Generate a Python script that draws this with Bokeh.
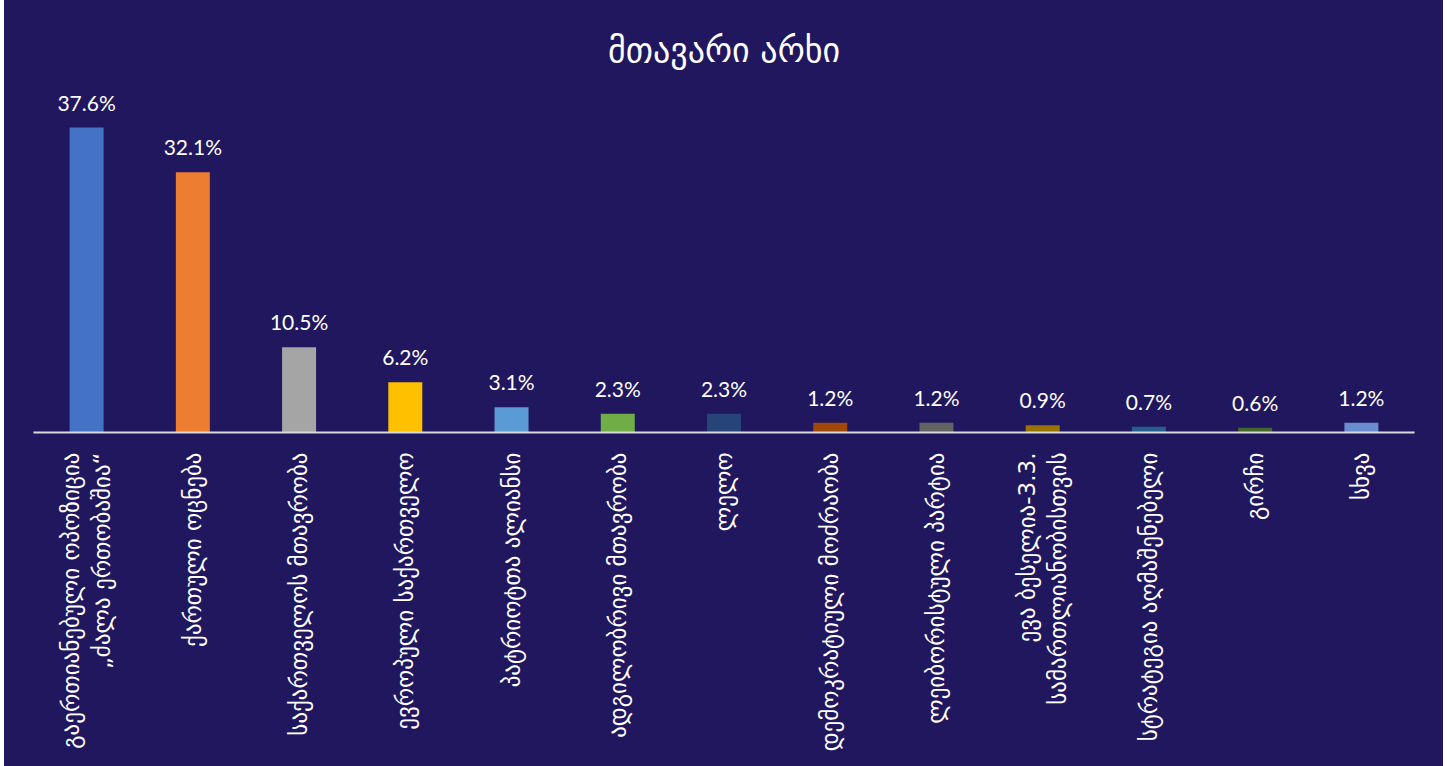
import math
from bokeh.plotting import figure
from bokeh.models import ColumnDataSource, LabelSet, Range1d, FactorRange
from bokeh.core.properties import value
from bokeh.embed import file_html
from bokeh.resources import INLINE

title_text = "მთავარი არხი"

categories = [
    "გაერთიანებული ოპოზიცია\n„ძალა ერთობაშია“",
    "ქართული ოცნება",
    "საქართველოს მთავრობა",
    "ევროპული საქართველო",
    "პატრიოტთა ალიანსი",
    "ადგილობრივი მთავრობა",
    "ლელო",
    "დემოკრატიული მოძრაობა",
    "ლეიბორისტული პარტია",
    "ევა ბესელია-3.3.\nსამართლიანობისთვის",
    "სტრატეგია აღმაშენებელი",
    "გირჩი",
    "სხვა",
]
values = [37.6, 32.1, 10.5, 6.2, 3.1, 2.3, 2.3, 1.2, 1.2, 0.9, 0.7, 0.6, 1.2]
value_labels = [f"{v:.1f}%" for v in values]
colors = ["#4472C4", "#ED7D31", "#A5A5A5", "#FFC000", "#5B9BD5", "#70AD47",
          "#264478", "#9E480E", "#636363", "#997300", "#255E91", "#43682B", "#698ED0"]

BG = "#20175E"

src = ColumnDataSource(dict(cat=categories, val=values, lab=value_labels, col=colors))

p = figure(
    x_range=FactorRange(*categories, range_padding=0, factor_padding=0),
    y_range=Range1d(0, 43.4),
    width=1439, height=766,
    output_backend="svg", toolbar_location=None,
    min_border_left=29, min_border_right=29,
    min_border_top=80, min_border_bottom=334,
    title=title_text,
)
p.margin = (0, 0, 0, 4)
p.styles = {"background-color": BG}
p.vbar(x="cat", top="val", width=0.32, color="col", source=src, line_color=None)

labels = LabelSet(x="cat", y="val", text="lab", source=src, y_offset=13,
                  text_align="center", text_baseline="bottom",
                  text_color="white", text_font=value("Lato"), text_font_size="21px")
p.add_layout(labels)

p.background_fill_color = None
p.border_fill_color = None
p.outline_line_color = None
p.xgrid.visible = False
p.ygrid.visible = False
p.yaxis.visible = False

ax = p.xaxis[0]
ax.axis_line_color = "#D9D9D9"
ax.axis_line_width = 2
ax.major_tick_line_color = None
ax.minor_tick_line_color = None
ax.major_label_orientation = math.pi / 2
ax.major_label_text_color = "white"
ax.major_label_text_font = "DejaVu Sans"
ax.major_label_text_font_size = "23px"
ax.major_label_standoff = 14

p.title.align = "center"
p.title.text_color = "white"
p.title.text_font = "DejaVu Sans"
p.title.text_font_size = "34px"
p.title.text_font_style = "normal"
p.title.standoff = 21

open("out.html", "w").write(file_html(p, INLINE))
